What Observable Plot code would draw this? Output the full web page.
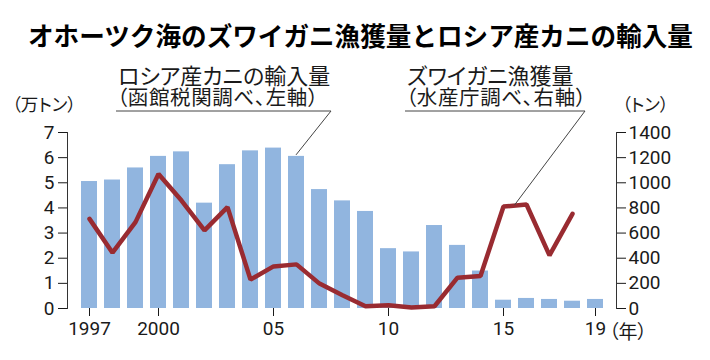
<!DOCTYPE html>
<html><head><meta charset="utf-8">
<script src="https://cdn.jsdelivr.net/npm/d3@7"></script>
<script src="https://cdn.jsdelivr.net/npm/@observablehq/plot@0.6"></script>
<style>
body{margin:0;background:#fff;}
#wrap{position:relative;width:710px;height:360px;font-family:"Noto Sans CJK JP",sans-serif;color:#1a1a1a;}
.t{position:absolute;white-space:nowrap;line-height:1;}
.p{font-feature-settings:"palt";}
</style></head><body><div id="wrap"></div>
<script>
const years = [1997,1998,1999,2000,2001,2002,2003,2004,2005,2006,2007,2008,2009,2010,2011,2012,2013,2014,2015,2016,2017,2018,2019];
const imports = [5.05,5.11,5.59,6.05,6.23,4.19,5.72,6.27,6.38,6.05,4.73,4.28,3.86,2.38,2.25,3.30,2.51,1.49,0.33,0.40,0.36,0.29,0.36];
const catchYears = [1997,1998,1999,2000,2001,2002,2003,2004,2005,2006,2007,2008,2009,2010,2011,2012,2013,2014,2015,2016,2017,2018];
const catchTons = [713,444,687,1070,859,621,806,230,335,351,198,106,18,26,8,18,245,259,811,827,423,753];
const leftTicks = [0,1,2,3,4,5,6,7];
const xTicks = [1997,2000,2005,2010,2015,2019];
const xTickLabels = ["1997","2000","05","10","15","19"];
const ratio = 200; // right axis tons per left-axis unit

const title = "オホーツク海のズワイガニ漁獲量とロシア産カニの輸入量";
const impName = "ロシア産カニの輸入量";
const impSrc = "（函館税関調べ、左軸）";
const catName = "ズワイガニ漁獲量";
const catSrc = "（水産庁調べ、右軸）";

const impData = years.map((y,i)=>({year:y, v:imports[i]}));
const catData = catchYears.map((y,i)=>({year:y, t:catchTons[i]}));

const font = "Roboto, 'Noto Sans CJK JP', sans-serif";
const chart = Plot.plot({
  width:710, height:360,
  marginTop:132, marginBottom:52, marginLeft:67, marginRight:94,
  x:{type:"band", domain:years, paddingInner:0.31, paddingOuter:0.5, axis:null},
  y:{domain:[0,7], axis:null},
  style:{fontFamily:font, fontSize:"19px", background:"transparent", color:"#1a1a1a"},
  marks:[
    Plot.barY(impData, {x:"year", y:"v", fill:"#91b5df"}),
    Plot.line(catData, {x:"year", y:d=>d.t/ratio, stroke:"#992b31", strokeWidth:4.5, strokeLinejoin:"miter"}),
    Plot.axisY({anchor:"left", ticks:leftTicks, tickSize:9, tickPadding:4, label:null, tickFormat:d=>String(d), fontSize:19}),
    Plot.axisY({anchor:"right", ticks:leftTicks, tickSize:9, tickPadding:3, label:null, tickFormat:d=>String(d*ratio), fontSize:19}),
    Plot.frame({anchor:"left", stroke:"#333"}),
    Plot.frame({anchor:"right", stroke:"#333"}),
    Plot.axisX({ticks:xTicks, tickSize:8, tickPadding:5, label:null, tickFormat:d=>xTickLabels[xTicks.indexOf(d)], fontSize:19})
  ]
});
const wrap = document.getElementById("wrap");
wrap.appendChild(chart);
chart.style.position="absolute"; chart.style.left="0"; chart.style.top="0";

// annotation leader lines anchored to data via scales
const xs = chart.scale("x"), ys = chart.scale("y");
const bw = xs.bandwidth;
const cx = y => xs.apply(y) + bw/2;
const svg = d3.select(chart);
const g = svg.append("g").attr("stroke","#444").attr("stroke-width",1).attr("fill","none");
const i06 = years.indexOf(2006);
const a1 = [cx(2006), ys.apply(imports[i06]) - 1];
g.append("polyline").attr("points", `116,111 331,111 ${a1[0]},${a1[1]}`);
const i15 = catchYears.indexOf(2015);
const a2 = [(cx(2015)+cx(2016))/2, ys.apply((catchTons[i15]+catchTons[i15+1])/2/ratio)];
g.append("polyline").attr("points", `405,111 585,111 ${a2[0]},${a2[1]}`);

function addText(txt, left, top, size, weight, cls, extra){
  const d = document.createElement("div");
  d.className="t" + (cls ? " "+cls : ""); d.textContent=txt;
  d.style.left=left+"px"; d.style.top=top+"px"; d.style.fontSize=size+"px";
  if(weight) d.style.fontWeight=weight;
  if(extra) Object.assign(d.style, extra);
  wrap.appendChild(d);
}
addText(title, 28, 22, 25.6, 700, null, {color:"#000"});
addText(impName, 118, 63, 22, null, "p");
addText(impSrc, 117, 86, 20.5, null, "p", {letterSpacing:"0.6px"});
addText(catName, 407, 63, 22, null, "p");
addText(catSrc, 406, 86, 20.5, null, "p", {letterSpacing:"0.6px"});
addText("（万トン）", 12, 95, 17.5, null, "p");
addText("（トン）", 622, 95, 17.5, null, "p");
addText("（年）", 609, 321, 19, null, "p");
</script></body></html>
